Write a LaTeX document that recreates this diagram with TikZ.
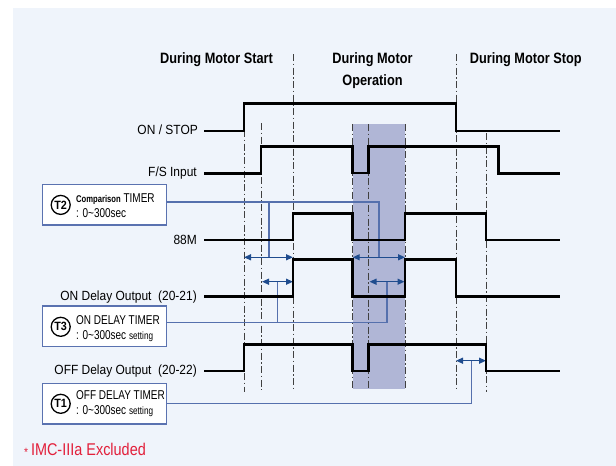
\documentclass[tikz,border=0pt]{standalone}
\usepackage{fontspec}
\setmainfont{Liberation Sans}
\newfontfamily\headfont[FakeStretch=0.85]{Liberation Sans}
\newfontfamily\labfont[FakeStretch=0.9]{Liberation Sans}
\newfontfamily\boxfont[FakeStretch=0.78]{Liberation Sans}
\usetikzlibrary{arrows.meta}
\definecolor{bgblue}{HTML}{EFF4FB}
\definecolor{shadecol}{HTML}{B0B6D6}
\definecolor{conn}{HTML}{5570AD}
\definecolor{arrowblue}{HTML}{1F4C8E}
\definecolor{guide}{HTML}{404040}
\definecolor{boxedge}{HTML}{5A72B0}
\definecolor{noteRed}{HTML}{E21F3A}
\begin{document}
\begin{tikzpicture}[x=1pt,y=-1pt,
 sig/.style={line width=2.7pt, black, line join=miter},
 guideln/.style={guide, line width=0.9pt, dash pattern=on 7pt off 2.5pt on 1.5pt off 2.5pt},
 connln/.style={conn, line width=1.3pt},
 dbl/.style={arrowblue, line width=1.3pt, {Triangle[length=7pt,width=6pt]}-{Triangle[length=7pt,width=6pt]}},
 timerbox/.style={draw=boxedge, line width=1.4pt, fill=white, minimum width=124pt, minimum height=40.5pt, inner sep=0pt},
 tcirc/.style={circle, draw=black, line width=1.3pt, minimum size=19pt, inner sep=0pt, font=\labfont\bfseries\fontsize{12}{12}\selectfont},
 boxtext/.style={anchor=west, align=left, inner sep=0pt, font=\boxfont\fontsize{12.8}{15}\selectfont},
 lab/.style={anchor=east, inner sep=0pt, font=\labfont\fontsize{13.3}{13}\selectfont},
 head/.style={font=\headfont\bfseries\fontsize{15}{22}\selectfont, align=center},
 ]
% background
\fill[white] (0,0) rectangle (616,466);
\fill[bgblue] (13,8) rectangle (616,466);
\useasboundingbox (0,0) rectangle (616,466);
% shaded interval
\fill[shadecol] (352.7,124.3) rectangle (405,389.3);
% guide lines
\draw[guideln] (244,130) -- (244,392);
\draw[guideln] (261,123) -- (261,390);
\draw[guideln] (293,54) -- (293,390);
\draw[guideln] (352.7,124) -- (352.7,389);
\draw[guideln] (368.7,124) -- (368.7,389);
\draw[guideln] (405,124) -- (405,389);
\draw[guideln] (456,54) -- (456,390);
\draw[guideln] (486,133) -- (486,392);
% headers
\node[head] (h1) at (216.5,60) {During Motor Start};
\node[head] (h2) at (372.5,71) {During Motor\\Operation};
\node[head] (h3) at (525.8,60) {During Motor Stop};
% signal labels
\node[lab] (lonstop) at (198,130) {ON / STOP};
\node[lab] (lfs) at (197,173) {F/S Input};
\node[lab] (l88) at (197,240) {88M};
\node[lab] (lond) at (197,297) {ON Delay Output\ \ (20-21)};
\node[lab] (loffd) at (197,371) {OFF Delay Output\ \ (20-22)};
% timer boxes
\node[timerbox] (t2box) at (104.2,204.9) {};
\node[timerbox] (t3box) at (104.2,326.3) {};
\node[timerbox] (t1box) at (104.2,403.8) {};
\node[tcirc] (t2c) at (60.7,204.9) {T2};
\node[tcirc] (t3c) at (60.7,326.8) {T3};
\node[tcirc] (t1c) at (60.7,403.8) {T1};
\node[boxtext] (t2txt) at (76,206) {{\bfseries\fontsize{9.8}{15}\selectfont Comparison} TIMER\\: 0\textasciitilde300sec};
\node[boxtext] (t3txt) at (76,329) {ON DELAY TIMER\\: 0\textasciitilde300sec {\fontsize{10.5}{15}\selectfont setting}};
\node[boxtext] (t1txt) at (76,404) {OFF DELAY TIMER\\: 0\textasciitilde300sec {\fontsize{10.5}{15}\selectfont setting}};
% connector coordinates
\coordinate (t2out) at ([yshift=3pt]t2box.east);
\coordinate (t2end) at (379,257.3);
\coordinate (t2br) at (269,257.3);
\coordinate (t3out) at ([yshift=4pt]t3box.east);
\coordinate (t3end) at (387,281.7);
\coordinate (t3br) at (277.7,281.7);
\coordinate (t1end) at (471.7,360.7);
% connectors
\draw[connln] (t2out) -| (t2end);
\draw[connln] (t2br |- t2out) -- (t2br);
\draw[connln] (t3out) -| (t3end);
\draw[connln] (t3br |- t3out) -- (t3br);
\draw[connln] (t1box.east) -| (t1end);
% double arrows
\coordinate (a1l) at (244,257.3); \coordinate (a1r) at (293,257.3);
\coordinate (a2l) at (352.7,257.3); \coordinate (a2r) at (405,257.3);
\coordinate (a3l) at (262,281.7); \coordinate (a3r) at (293,281.7);
\coordinate (a4l) at (369.5,281.7); \coordinate (a4r) at (404.5,281.7);
\coordinate (a5l) at (456,360.7); \coordinate (a5r) at (486,360.7);
\draw[dbl] (a1l) -- (a1r);
\draw[dbl] (a2l) -- (a2r);
\draw[dbl] (a3l) -- (a3r);
\draw[dbl] (a4l) -- (a4r);
\draw[dbl] (a5l) -- (a5r);
% waveforms
\draw[sig] (204,131) -- (244,131) -- (244,103.3) -- (456,103.3) -- (456,131) -- (560,131);
\draw[sig] (204,173.3) -- (261,173.3) -- (261,146.7) -- (352.7,146.7) -- (352.7,173) -- (368.3,173) -- (368.3,146.7) -- (498.3,146.7) -- (498.3,173.3) -- (560,173.3);
\draw[sig] (204,240) -- (293,240) -- (293,213.3) -- (352.7,213.3) -- (352.7,240) -- (405,240) -- (405,213.3) -- (486,213.3) -- (486,240) -- (560,240);
\draw[sig] (204,296.7) -- (293,296.7) -- (293,259.3) -- (352.7,259.3) -- (352.7,296.7) -- (405,296.7) -- (405,259.3) -- (456,259.3) -- (456,296.7) -- (560,296.7);
\draw[sig] (204,371) -- (244,371) -- (244,344.3) -- (352.7,344.3) -- (352.7,371) -- (368.3,371) -- (368.3,344.3) -- (486,344.3) -- (486,371) -- (560,371);
% note
\node[anchor=west, inner sep=0pt, text=noteRed, font=\headfont\fontsize{17}{17}\selectfont] (note) at (24,450) {\raisebox{-1.5pt}{\fontsize{12}{12}\selectfont *}\,IMC-IIIa Excluded};
\end{tikzpicture}
\end{document}
